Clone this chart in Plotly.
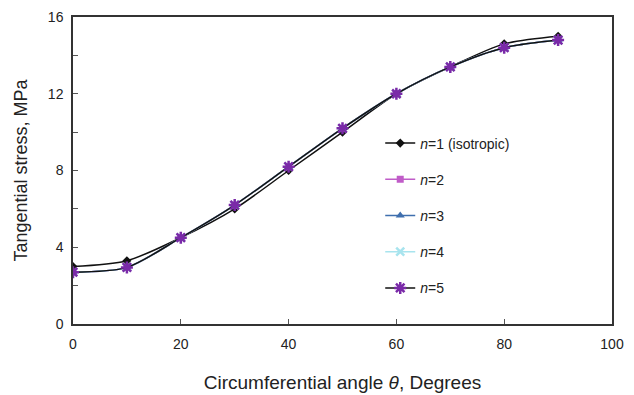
import plotly.graph_objects as go

angles = [0, 10, 20, 30, 40, 50, 60, 70, 80, 90]
n1 = [3.0, 3.3, 4.5, 6.0, 8.0, 10.0, 12.0, 13.4, 14.6, 15.0]
n2 = [2.7, 2.95, 4.5, 6.2, 8.2, 10.2, 12.0, 13.4, 14.4, 14.8]
n3 = [2.7, 2.95, 4.5, 6.2, 8.2, 10.2, 12.0, 13.4, 14.4, 14.8]
n4 = [2.7, 2.95, 4.5, 6.2, 8.2, 10.2, 12.0, 13.4, 14.4, 14.8]
n5 = [2.7, 2.95, 4.5, 6.2, 8.2, 10.2, 12.0, 13.4, 14.4, 14.8]
names = ["<i>n</i>=1 (isotropic)", "<i>n</i>=2", "<i>n</i>=3", "<i>n</i>=4", "<i>n</i>=5"]
x_ticks = [0, 20, 40, 60, 80, 100]
y_ticks = [0, 4, 8, 12, 16]

series = [n1, n2, n3, n4, n5]
line_colors = ["#111111", "#c05cc8", "#3f6fae", "#a8e4ee", "#111111"]
marker_colors = ["#111111", "#c05cc8", "#3f6fae", "#a8e4ee", "#7a2aa8"]
symbols = ["diamond", "square", "triangle-up", "x-thin-open", "asterisk-open"]
sizes = [7, 7, 8, 8, 10]

fig = go.Figure()
for i, (ys, nm) in enumerate(zip(series, names)):
    mk = dict(symbol=symbols[i], size=sizes[i], color=marker_colors[i])
    if symbols[i].endswith("open"):
        mk["line"] = dict(color=marker_colors[i], width=2.5)
    fig.add_trace(go.Scatter(
        x=angles, y=ys, name=nm, mode="lines+markers",
        line=dict(color=line_colors[i], width=1.5, shape="spline", smoothing=0.8),
        marker=mk, legendgroup=str(i),
    ))

fig.update_layout(
    width=626, height=387,
    margin=dict(l=65, r=22, t=9, b=71),
    paper_bgcolor="white", plot_bgcolor="white",
    font=dict(family="Liberation Sans, Arial, sans-serif", size=14, color="#222"),
    showlegend=True,
    legend=dict(x=0.57, y=0.64, xanchor="left", yanchor="top",
                bgcolor="rgba(0,0,0,0)", tracegroupgap=15,
                font=dict(size=14), itemwidth=30),
    xaxis=dict(range=[0, 100], tickvals=x_ticks, ticks="inside", ticklen=5,
               tickcolor="#555", showline=True, linecolor="#333", linewidth=1.5,
               mirror=True, showgrid=False, zeroline=False, automargin=False,
               ticklabelstandoff=6,
               title=dict(text="Circumferential angle <i>θ</i>, Degrees",
                          font=dict(size=19), standoff=25)),
    yaxis=dict(range=[0, 16], tickvals=y_ticks, ticks="inside", ticklen=5,
               tickcolor="#555", showline=True, linecolor="#333", linewidth=1.5,
               mirror=True, showgrid=False, zeroline=False, automargin=False,
               ticklabelstandoff=5,
               minor=dict(dtick=2, tick0=0, ticks="inside", ticklen=5, tickcolor="#555"),
               title=dict(text="Tangential stress, MPa", font=dict(size=18), standoff=16)),
)

fig.write_html("out.html")
